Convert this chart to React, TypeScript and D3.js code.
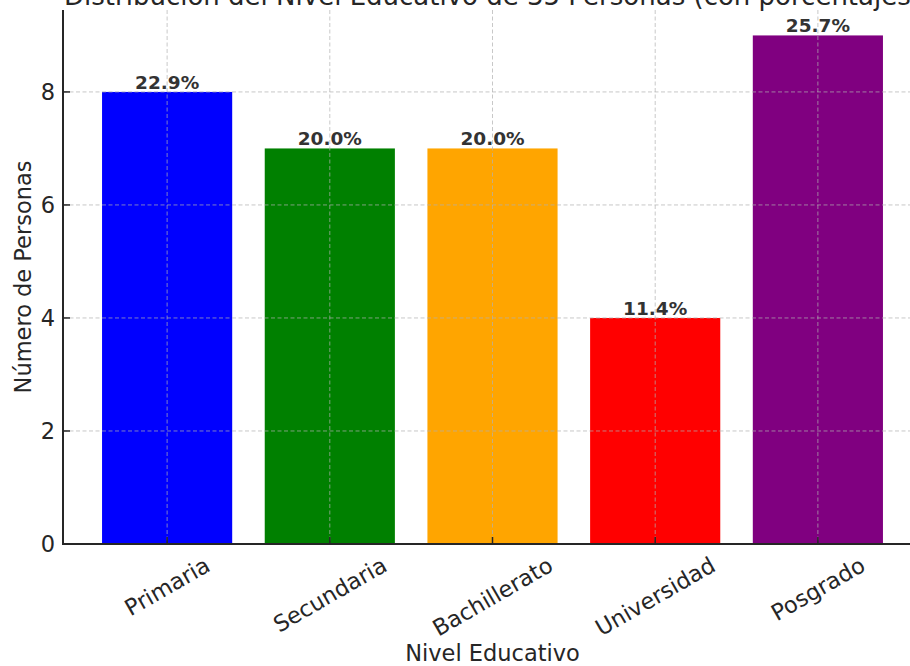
import React, { useEffect, useRef } from "react";
import * as d3 from "d3";

const categories = ["Primaria", "Secundaria", "Bachillerato", "Universidad", "Posgrado"];
const counts = [8, 7, 7, 4, 9];
const percentLabels = ["22.9%", "20.0%", "20.0%", "11.4%", "25.7%"];
const barColors = ["#0000ff", "#008000", "#ffa500", "#ff0000", "#800080"];
const yTicks = [0, 2, 4, 6, 8];
const titleText = "Distribución del Nivel Educativo de 35 Personas (con porcentajes)";
const xLabel = "Nivel Educativo";
const yLabel = "Número de Personas";

const W = 910;
const H = 666;
const FONT = "DejaVu Sans, sans-serif";
const FS = 22.5;

export default function App() {
  const ref = useRef<SVGSVGElement | null>(null);

  useEffect(() => {
    const svg = d3.select(ref.current);
    svg.selectAll("*").remove();

    const left = 63;
    const right = 922;
    const top = 10;
    const bottom = 544;

    const x = d3.scaleLinear().domain([-0.64, 4.64]).range([left, right]);
    const y = d3.scaleLinear().domain([0, 9.45]).range([bottom, top]);
    const bw = x(0.4) - x(0);

    // bars
    svg.append("g")
      .selectAll("rect")
      .data(counts)
      .join("rect")
      .attr("x", (_, i) => x(i) - bw)
      .attr("width", bw * 2)
      .attr("y", (d) => y(d))
      .attr("height", (d) => y(0) - y(d))
      .attr("fill", (_, i) => barColors[i]);

    // grid
    const grid = svg.append("g")
      .attr("stroke", "#b0b0b0")
      .attr("stroke-opacity", 0.7)
      .attr("stroke-width", 1)
      .attr("stroke-dasharray", "4,2.5");
    grid.selectAll("line.h")
      .data(yTicks.filter((t) => t > 0))
      .join("line")
      .attr("class", "h")
      .attr("x1", left)
      .attr("x2", right)
      .attr("y1", (d) => y(d))
      .attr("y2", (d) => y(d));
    grid.selectAll("line.v")
      .data(categories)
      .join("line")
      .attr("class", "v")
      .attr("x1", (_, i) => x(i))
      .attr("x2", (_, i) => x(i))
      .attr("y1", top)
      .attr("y2", bottom);

    // percent labels
    svg.append("g")
      .selectAll("text")
      .data(counts)
      .join("text")
      .attr("x", (_, i) => x(i))
      .attr("y", (d) => y(d) - 3)
      .attr("text-anchor", "middle")
      .attr("font-family", FONT)
      .attr("font-size", 18.5)
      .attr("font-weight", "bold")
      .attr("fill", "#333333")
      .text((_, i) => percentLabels[i]);

    // spines
    svg.append("line")
      .attr("x1", left).attr("x2", left).attr("y1", top).attr("y2", bottom + 1)
      .attr("stroke", "#262626").attr("stroke-width", 2);
    svg.append("line")
      .attr("x1", left - 1).attr("x2", right).attr("y1", bottom).attr("y2", bottom)
      .attr("stroke", "#262626").attr("stroke-width", 2);

    // y ticks
    const yt = svg.append("g");
    yTicks.forEach((t) => {
      yt.append("line")
        .attr("x1", left).attr("x2", left + 7)
        .attr("y1", y(t)).attr("y2", y(t))
        .attr("stroke", "#262626").attr("stroke-width", 1.5);
      yt.append("text")
        .attr("x", left - 8)
        .attr("y", y(t))
        .attr("dy", "0.36em")
        .attr("text-anchor", "end")
        .attr("font-family", FONT)
        .attr("font-size", FS)
        .attr("fill", "#262626")
        .text(String(t));
    });

    // x ticks and rotated labels
    const xt = svg.append("g");
    categories.forEach((c, i) => {
      xt.append("line")
        .attr("x1", x(i)).attr("x2", x(i))
        .attr("y1", bottom).attr("y2", bottom - 7)
        .attr("stroke", "#262626").attr("stroke-width", 1.5);
      const t = xt.append("text")
        .attr("text-anchor", "middle")
        .attr("font-family", FONT)
        .attr("font-size", FS)
        .attr("fill", "#262626")
        .attr("dy", "0.36em")
        .text(c);
      const w = (t.node() as SVGTextElement).getComputedTextLength();
      const h = FS * 1.0;
      const bboxH = w * 0.5 + h * 0.866;
      const cy = bottom + 9 + bboxH / 2;
      t.attr("transform", `translate(${x(i)},${cy}) rotate(-30)`);
    });

    // axis labels
    svg.append("text")
      .attr("x", (left + right) / 2)
      .attr("y", 661)
      .attr("text-anchor", "middle")
      .attr("font-family", FONT)
      .attr("font-size", FS)
      .attr("fill", "#262626")
      .text(xLabel);
    svg.append("text")
      .attr("transform", `translate(31,${(top + bottom) / 2}) rotate(-90)`)
      .attr("text-anchor", "middle")
      .attr("font-family", FONT)
      .attr("font-size", FS)
      .attr("fill", "#262626")
      .text(yLabel);

    // title (cropped at top in the reference)
    svg.append("text")
      .attr("x", (left + right) / 2)
      .attr("y", 5)
      .attr("text-anchor", "middle")
      .attr("font-family", FONT)
      .attr("font-size", 26)
      .attr("fill", "#262626")
      .text(titleText);
  }, []);

  return (
    <div style={{ position: "fixed", left: 0, top: 0, width: W, height: H, background: "#fff" }}>
      <svg ref={ref} width={W} height={H} style={{ display: "block" }} />
    </div>
  );
}
